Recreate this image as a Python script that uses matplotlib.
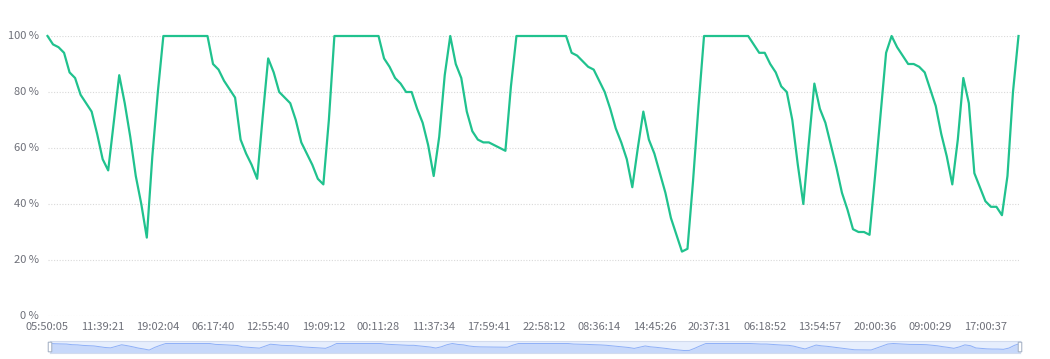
import matplotlib
matplotlib.use("Agg")
import matplotlib.pyplot as plt
from matplotlib.patches import FancyBboxPatch, Rectangle
import numpy as np

plt.rcParams['font.family'] = ['Noto Sans CJK SC', 'DejaVu Sans']

# ---- data (battery level %) ----
battery = [
    100, 97, 96, 94, 87, 85, 79, 76, 73, 65,
    56, 52, 69, 86, 76, 64, 50, 40, 28, 57,
    80, 100, 100, 100, 100, 100, 100, 100, 100, 100,
    90, 88, 84, 81, 78, 63, 58, 54, 49, 71,
    92, 87, 80, 78, 76, 70, 62, 58, 54, 49,
    47, 70, 100, 100, 100, 100, 100, 100, 100, 100,
    100, 92, 89, 85, 83, 80, 80, 74, 69, 61,
    50, 64, 86, 100, 90, 85, 73, 66, 63, 62,
    62, 61, 60, 59, 82, 100, 100, 100, 100, 100,
    100, 100, 100, 100, 100, 94, 93, 91, 89, 88,
    84, 80, 74, 67, 62, 56, 46, 60, 73, 63,
    58, 51, 44, 35, 29, 23, 24, 48, 75, 100,
    100, 100, 100, 100, 100, 100, 100, 100, 97, 94,
    94, 90, 87, 82, 80, 70, 54, 40, 62, 83,
    74, 69, 61, 53, 44, 38, 31, 30, 30, 29,
    50, 72, 94, 100, 96, 93, 90, 90, 89, 87,
    81, 75, 65, 57, 47, 63, 85, 76, 51, 46,
    41, 39, 39, 36, 50, 80, 100,
]
tick_labels = [
    "05:50:05", "11:39:21", "19:02:04", "06:17:40", "12:55:40", "19:09:12",
    "00:11:28", "11:37:34", "17:59:41", "22:58:12", "08:36:14", "14:45:26",
    "20:37:31", "06:18:52", "13:54:57", "20:00:36", "09:00:29", "17:00:37",
]
label_interval = 10
y_ticks = [0, 20, 40, 60, 80, 100]

W, H = 1050, 359
fig = plt.figure(figsize=(W / 100, H / 100), dpi=100)

x = np.arange(len(battery))
left_px, right_px = 47.5, 1018.5
top_px, bottom_px = 36, 316
ax = fig.add_axes([left_px / W, 1 - bottom_px / H, (right_px - left_px) / W, (bottom_px - top_px) / H])
ax.plot(x, battery, color='#20c28e', lw=1.6, solid_joinstyle='round', zorder=3, clip_on=False)
ax.set_xlim(0, len(battery) - 1)
ax.set_ylim(0, 100)
ax.set_yticks(y_ticks)
ax.set_yticklabels([f"{v} %" for v in y_ticks])
ax.set_xticks(x[::label_interval])
ax.set_xticklabels(tick_labels)
for s in ax.spines.values():
    s.set_visible(False)
ax.tick_params(axis='both', length=0, labelsize=8, labelcolor='#6e7079')
ax.tick_params(axis='y', pad=6)
ax.tick_params(axis='x', pad=4)
for lbl in ax.get_yticklabels():
    lbl.set_verticalalignment('center')
ax.grid(axis='y', color='#d9d9d9', linestyle=(0, (1, 1.5)), lw=0.8)
ax.set_axisbelow(True)

# ---- data zoom slider ----
sl_left, sl_right, sl_top, sl_bottom = 50, 1020, 341, 353
sax = fig.add_axes([sl_left / W, 1 - sl_bottom / H, (sl_right - sl_left) / W, (sl_bottom - sl_top) / H])
sax.set_xlim(0, len(battery) - 1)
sax.set_ylim(-4.5, 127.5)
sax.add_patch(Rectangle((0, 0), 1, 1, transform=sax.transAxes, facecolor='#e6eefd', edgecolor='none', zorder=0))
sax.fill_between(x, -4.5, battery, color='#8fb0f7', alpha=0.35, lw=0, zorder=1)
sax.plot(x, battery, color='#8fb0f7', lw=0.7, zorder=2)
sax.set_xticks([])
sax.set_yticks([])
for s in sax.spines.values():
    s.set_color('#d2dbee')
    s.set_linewidth(0.8)
for hx in (0.0, 1.0):
    sax.add_patch(FancyBboxPatch((hx - 0.0018, 0.1), 0.0036, 0.8,
                                 boxstyle="round,pad=0.0,rounding_size=0.0015",
                                 transform=sax.transAxes, facecolor='#ffffff',
                                 edgecolor='#aab6c8', lw=0.8, clip_on=False, zorder=5))

fig.savefig("out.png", dpi=100)
